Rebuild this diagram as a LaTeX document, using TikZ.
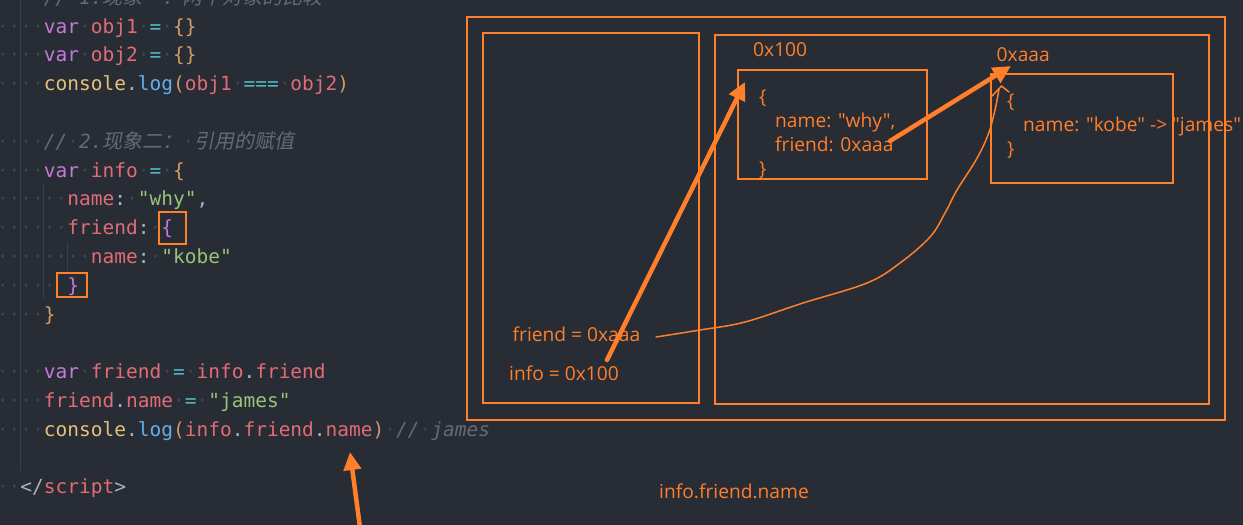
\documentclass[tikz,border=0pt]{standalone}
\usepackage{fontspec}
\usetikzlibrary{arrows.meta}
\newfontfamily\codefont{DejaVu Sans Mono}
\newfontfamily\cjkfam[FakeSlant=0.2]{Noto Sans CJK SC}
\newfontfamily\uifont{Open Sans}
\definecolor{bg}{HTML}{282C34}
\definecolor{wsc}{HTML}{40454F}
\definecolor{guide}{HTML}{3B4048}
\definecolor{ckwc}{HTML}{C678DD}
\definecolor{cvrc}{HTML}{E06C75}
\definecolor{copc}{HTML}{56B6C2}
\definecolor{cbrc}{HTML}{D19A66}
\definecolor{cbpc}{HTML}{C678DD}
\definecolor{cfnc}{HTML}{E5C07B}
\definecolor{clgc}{HTML}{61AFEF}
\definecolor{cstc}{HTML}{98C379}
\definecolor{ccmc}{HTML}{646A76}
\definecolor{cplc}{HTML}{ABB2BF}
\definecolor{org}{HTML}{FF7F2A}
\newcommand\dotc{\textcolor{wsc}{\upshape ·}}
\newcommand\blankc{\phantom{·}}
\newcommand\ckw[1]{\textcolor{ckwc}{#1}}
\newcommand\cvr[1]{\textcolor{cvrc}{#1}}
\newcommand\cop[1]{\textcolor{copc}{#1}}
\newcommand\cbr[1]{\textcolor{cbrc}{#1}}
\newcommand\cbp[1]{\textcolor{cbpc}{#1}}
\newcommand\cfn[1]{\textcolor{cfnc}{#1}}
\newcommand\clg[1]{\textcolor{clgc}{#1}}
\newcommand\cst[1]{\textcolor{cstc}{#1}}
\newcommand\ccm[1]{\textcolor{ccmc}{\itshape #1}}
\newcommand\cpl[1]{\textcolor{cplc}{#1}}
\newcommand\cjkc{\cjkfam\fontsize{20}{20}\selectfont}
\tikzset{
  codeline/.style={anchor=base west, inner sep=0pt, font=\codefont\fontsize{19.5}{20}\selectfont},
  uitext/.style={anchor=base west, inner sep=0pt, text=org, font=\uifont\fontsize{19.2}{22}\selectfont},
  obox/.style={draw=org, line width=2pt, inner sep=0pt, minimum width=#1},
  hlbox/.style={draw=org, line width=2pt, inner sep=0pt},
  thickarrow/.style={draw=org, line width=4.5pt, line cap=round, -{Triangle[length=18pt,width=17pt]}},
  thinline/.style={draw=org, line width=1.5pt, line cap=round, line join=round},
  guideline/.style={draw=guide, line width=1pt}
}
\begin{document}
\begin{tikzpicture}[x=1pt,y=-1pt]
\fill[bg] (0,0) rectangle (1243,525);
\useasboundingbox (0,0) rectangle (1243,525);
% indent guides
\draw[guideline] (20.8,0) -- (20.8,471);
\draw[guideline] (43.8,183) -- (43.8,299);
\draw[guideline] (67.4,242) -- (67.4,271);
% code lines
\node[codeline] (c0) at (-3.2,4.2) {\dotc\dotc\dotc\dotc\ccm{//}\dotc\ccm{1.\cjkc 现象一：两个对象的比较}};
\node[codeline] (c1) at (-3.2,33) {\dotc\dotc\dotc\dotc\ckw{var}\dotc\cvr{obj1}\dotc\cop{=}\dotc\cbr{\{\}}};
\node[codeline] (c2) at (-3.2,61.8) {\dotc\dotc\dotc\dotc\ckw{var}\dotc\cvr{obj2}\dotc\cop{=}\dotc\cbr{\{\}}};
\node[codeline] (c3) at (-3.2,90.6) {\dotc\dotc\dotc\dotc\cfn{console}\cpl{.}\clg{log}\cbr{(}\cvr{obj1}\dotc\cop{===}\dotc\cvr{obj2}\cbr{)}};
\node[codeline] (c5) at (-3.2,148.2) {\dotc\dotc\dotc\dotc\ccm{//}\dotc\ccm{2.\cjkc 现象二：}\dotc\ccm{\cjkc 引用的赋值}};
\node[codeline] (c6) at (-3.2,177) {\dotc\dotc\dotc\dotc\ckw{var}\dotc\cvr{info}\dotc\cop{=}\dotc\cbr{\{}};
\node[codeline] (c7) at (-3.2,205.8) {\dotc\dotc\dotc\dotc\dotc\dotc\cvr{name}\cpl{:}\dotc\cst{"why"}\cpl{,}};
\node[codeline] (c8) at (-3.2,234.6) {\dotc\dotc\dotc\dotc\dotc\dotc\cvr{friend}\cpl{:}\dotc\cbp{\{}};
\node[codeline] (c9) at (-3.2,263.4) {\dotc\dotc\dotc\dotc\dotc\dotc\dotc\dotc\cvr{name}\cpl{:}\dotc\cst{"kobe"}};
\node[codeline] (c10) at (-3.2,292.2) {\dotc\dotc\dotc\dotc\dotc\blankc\cbp{\}}};
\node[codeline] (c11) at (-3.2,321) {\dotc\dotc\dotc\dotc\cbr{\}}};
\node[codeline] (c13) at (-3.2,378.6) {\dotc\dotc\dotc\dotc\ckw{var}\dotc\cvr{friend}\dotc\cop{=}\dotc\cvr{info}\cpl{.}\cvr{friend}};
\node[codeline] (c14) at (-3.2,407.4) {\dotc\dotc\dotc\dotc\cvr{friend}\cpl{.}\cvr{name}\dotc\cop{=}\dotc\cst{"james"}};
\node[codeline] (c15) at (-3.2,436.2) {\dotc\dotc\dotc\dotc\cfn{console}\cpl{.}\clg{log}\cbr{(}\cvr{info}\cpl{.}\cvr{friend}\cpl{.}\cvr{name}\cbr{)}\dotc\ccm{//}\dotc\ccm{james}};
\node[codeline] (c17) at (-3.2,493.8) {\dotc\dotc\cpl{</}\cvr{script}\cpl{>}};
% highlight boxes in code
\node[hlbox, minimum width=26.7pt, minimum height=31.7pt] (hl1) at (172.65,228.15) {};
\node[hlbox, minimum width=29.4pt, minimum height=23.4pt] (hl2) at (72,285) {};
% memory diagram boxes
\node[obox=758pt, minimum height=403pt] (outer) at (846,218) {};
\node[obox=216pt, minimum height=370pt] (stack) at (591,218) {};
\node[obox=494pt, minimum height=369pt] (heap) at (962,219.3) {};
\node[obox=189pt, minimum height=108.7pt] (obj100) at (832.3,124.35) {};
\node[obox=182.6pt, minimum height=108.7pt] (objaaa) at (1082,128.35) {};
% texts
\node[uitext] (a100) at (753,56.5) {0x100};
\node[uitext] (b1) at (759,103) {\{};
\node[uitext] (b2) at (775,127.5) {name: "why",};
\node[uitext] (b3) at (775,151.5) {friend: 0xaaa};
\node[uitext] (b4) at (759,175.5) {\}};
\node[uitext] (aaaa) at (996.5,61.5) {0xaaa};
\node[uitext] (k1) at (1007,107) {\{};
\node[uitext] (k2) at (1023,131.5) {name: "kobe" -> "james"};
\node[uitext] (k3) at (1007,155.5) {\}};
\node[uitext] (sf) at (512.5,341.5) {friend = 0xaaa};
\node[uitext] (si) at (509,380) {info = 0x100};
\node[uitext] (ifn) at (659,498) {info.friend.name};
% arrow endpoints
\coordinate (p1s) at (607,360);
\coordinate (p1e) at (745,82);
\coordinate (p2s) at (890,141);
\coordinate (p2e) at (1011,66);
\coordinate (p3s) at (361,535);
\coordinate (p3e) at (350,452);
\draw[thickarrow] (p1s) -- (p1e);
\draw[thickarrow] (p2s) -- (p2e);
\draw[thickarrow] (p3s) -- (p3e);
% hand-drawn curve
\draw[thinline] plot[smooth, tension=0.6] coordinates {(656,337) (700,330) (745,322) (803,303) (867,283) (900,263) (930,237) (945,213) (957,190) (976,160) (988,135) (995,110) (999,89)};
\draw[thinline] (992,96) -- (1001.5,86) -- (1009,92);
\end{tikzpicture}
\end{document}
